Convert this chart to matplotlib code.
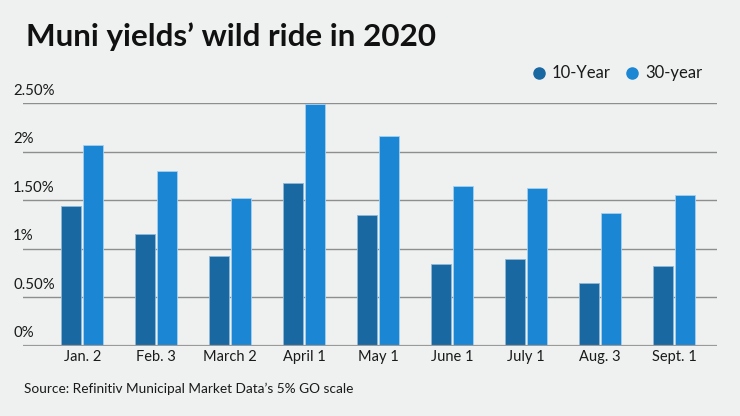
import numpy as np
import matplotlib
matplotlib.use("Agg")
import matplotlib.pyplot as plt
from matplotlib.lines import Line2D

# data (percent)
dates = ["Jan. 2", "Feb. 3", "March 2", "April 1", "May 1",
         "June 1", "July 1", "Aug. 3", "Sept. 1"]
ten_year = [1.44, 1.15, 0.93, 1.68, 1.35, 0.84, 0.90, 0.65, 0.82]
thirty_year = [2.07, 1.80, 1.52, 2.49, 2.16, 1.65, 1.63, 1.37, 1.56]
y_ticks = [0, 0.5, 1, 1.5, 2, 2.5]
y_labels = ["0%", "0.50%", "1%", "1.50%", "2%", "2.50%"]
series_names = ["10-Year", "30-year"]

BG = "#eff1f1"
DARK = "#1a68a1"
LIGHT = "#1b86d3"
GRID = "#8e8e8e"

plt.rcParams['font.family'] = ['Lato', 'DejaVu Sans']

fig = plt.figure(figsize=(7.4, 4.16), dpi=100, facecolor=BG)
ax = fig.add_axes([23 / 740, 1 - 346 / 416, 694 / 740, (346 - 103.3) / 416])
ax.set_facecolor(BG)

x = np.arange(len(dates))
w = 0.27
off = 0.149
ax.bar(x - off, ten_year, width=w, color=DARK, edgecolor="#8fb8d8",
       linewidth=0.6, zorder=3)
ax.bar(x + off, thirty_year, width=w, color=LIGHT, edgecolor="#a6d0ef",
       linewidth=0.6, zorder=3)

ax.set_xlim(-0.80, 8.577)
ax.set_ylim(0, 2.5)

# horizontal gridlines
for t in y_ticks[1:]:
    ax.axhline(t, color=GRID, linewidth=1.0, zorder=1)
ax.axhline(0, color="#9a9a9a", linewidth=1.6, zorder=4)

for s in ax.spines.values():
    s.set_visible(False)

ax.set_yticks([])
ax.set_xticks(x)
ax.set_xticklabels(dates, fontsize=10.5, color="#1a1a1a")
ax.tick_params(axis="x", length=0, pad=3)

# y labels sit above each gridline at the left
for t, lab in zip(y_ticks, y_labels):
    ax.annotate(lab, xy=(13 / 740, t), xycoords=("figure fraction", "data"),
                xytext=(0, 4), textcoords="offset points",
                ha="left", va="bottom", fontsize=10.8, color="#1a1a1a")

fig.text(26 / 740, 1 - 46 / 416, "Muni yields\u2019 wild ride in 2020",
         fontsize=22.6, fontweight="bold", color="#111111",
         ha="left", va="baseline")

fig.text(24 / 740, 1 - 393 / 416,
         "Source: Refinitiv Municipal Market Data\u2019s 5% GO scale",
         fontsize=9.8, color="#1a1a1a", ha="left", va="baseline")

# legend drawn by hand: dot + label
leg_y = 1 - 73 / 416
for cx, col, name in zip([539, 632], [DARK, LIGHT], series_names):
    fig.add_artist(Line2D([cx / 740], [leg_y], marker="o", markersize=8,
                          color=col, transform=fig.transFigure))
    fig.text((cx + 13) / 740, leg_y, name, fontsize=12, color="#1a1a1a",
             ha="left", va="center")

fig.savefig("out.png", dpi=100, facecolor=BG)
